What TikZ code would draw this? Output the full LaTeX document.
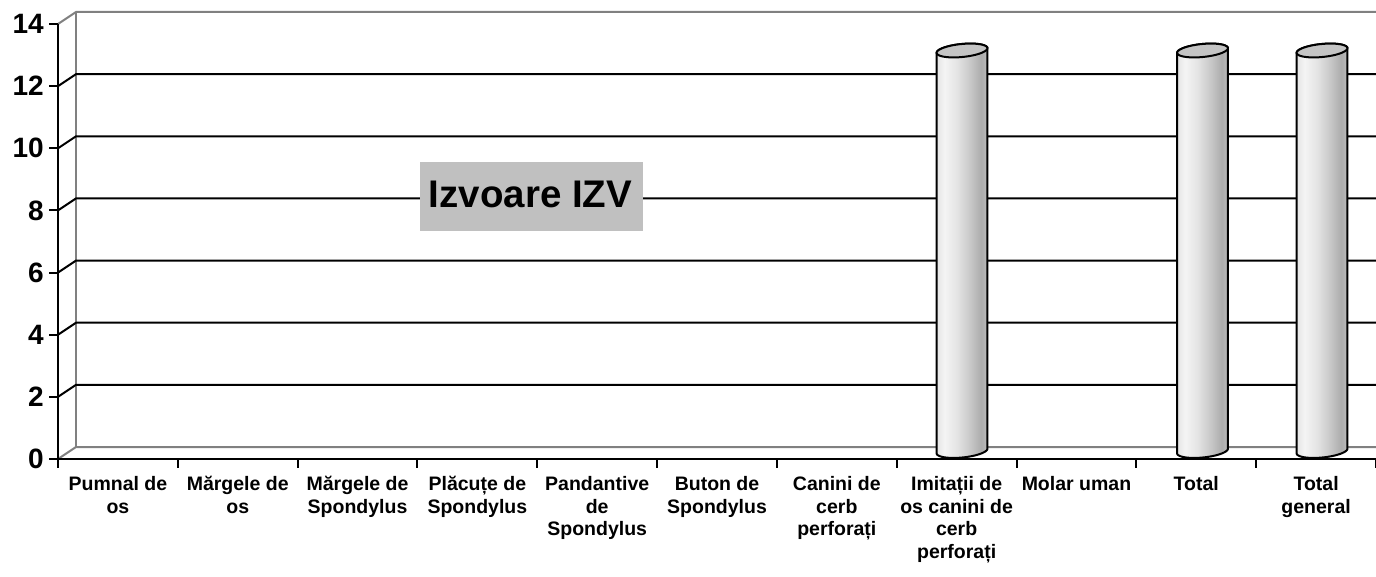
\documentclass[tikz,border=0pt]{standalone}
\usepackage{fontspec}
\setmainfont{Liberation Sans}
\definecolor{wallgray}{HTML}{808080}
\definecolor{titlegray}{HTML}{C0C0C0}
\definecolor{topgray}{HTML}{C4C4C4}
\definecolor{cA}{HTML}{E4E4E4}
\definecolor{cB}{HTML}{F4F4F4}
\definecolor{cC}{HTML}{E4E4E4}
\definecolor{cD}{HTML}{C8C8C8}
\definecolor{cE}{HTML}{ACACAC}
\definecolor{cF}{HTML}{BCBCBC}
\pgfdeclarehorizontalshading{cylshade}{100bp}{color(0bp)=(cA); color(25bp)=(cA); color(33bp)=(cB); color(45bp)=(cC); color(58bp)=(cD); color(69bp)=(cE); color(75bp)=(cF); color(100bp)=(cF)}
\newcommand\mycylinder[1]{%
  \shadedraw[shading=cylshade, line width=2pt]
    plot[domain=180:0, samples=40, variable=\t]
      ({#1 + 25.5*cos(\t)*cos(5.6) + 6.5*sin(\t)*sin(5.6)}, {451 - 25.5*cos(\t)*sin(5.6) + 6.5*sin(\t)*cos(5.6)})
    -- plot[domain=0:-180, samples=40, variable=\t]
      ({#1 + 25.5*cos(\t)*cos(5.6) + 6.5*sin(\t)*sin(5.6)}, {50.5 - 25.5*cos(\t)*sin(5.6) + 6.5*sin(\t)*cos(5.6)})
    -- cycle;
  \draw[fill=topgray, line width=2pt]
    plot[domain=0:360, samples=60, variable=\t]
      ({#1 + 25.5*cos(\t)*cos(5.6) + 6.5*sin(\t)*sin(5.6)}, {50.5 - 25.5*cos(\t)*sin(5.6) + 6.5*sin(\t)*cos(5.6)})
    -- cycle;
}
\begin{document}
\begin{tikzpicture}[x=1pt, y=-1pt,
  wall/.style={draw=wallgray, line width=2pt},
  gridline/.style={draw=black, line width=2pt},
  axisline/.style={draw=black, line width=2pt},
  ylab/.style={font=\fontsize{28}{28}\selectfont\bfseries, anchor=east, inner sep=0pt},
  xlab/.style={font=\fontsize{19.5}{22.7}\selectfont\bfseries, anchor=north, align=center, inner sep=0pt},
  titlebox/.style={fill=titlegray, minimum width=223pt, minimum height=69pt, inner sep=0pt},
  titletext/.style={font=\fontsize{38.5}{38.5}\selectfont\bfseries, inner sep=0pt}]
\useasboundingbox (0,0) rectangle (1376,577);
% back wall and floor
\draw[wall] (76,12) -- (76,447);
\draw[wall] (58,24) -- (76,12) -- (1376,12);
\draw[wall] (58,459) -- (76,447) -- (1376,447);
% grid lines
\foreach \v in {2,4,...,12}{
  \draw[gridline] (58,{459-\v*31.071}) -- ++(18,-12) -- (1376,{447-\v*31.071});
}
% title
\node[titlebox] (tbox) at (531.5,196.5) {};
\node[titletext] (title) at (530.5,194.5) {Izvoare IZV};
% cylinders
\mycylinder{962}
\mycylinder{1202.5}
\mycylinder{1322}
% axes
\draw[axisline] (58,24) -- (58,459) -- (1376,459);
\foreach \v [count=\i] in {0,2,...,14}{
  \draw[axisline] (49,{459-\v*31.071}) -- (58,{459-\v*31.071});
  \node[ylab] (y\i) at (44,{459-\v*31.071}) {\v};
}
\foreach \k in {0,...,11}{
  \draw[axisline] ({58+\k*119.818},459) -- ++(0,9);
}
% category labels
\foreach \lab [count=\i] in {
  {Pumnal de\\os},
  {Mărgele de\\os},
  {Mărgele de\\Spondylus},
  {Plăcuțe de\\Spondylus},
  {Pandantive\\de\\Spondylus},
  {Buton de\\Spondylus},
  {Canini de\\cerb\\perforați},
  {Imitații de\\os canini de\\cerb\\perforați},
  {Molar uman},
  {Total},
  {Total\\general}}{
  \node[xlab] (c\i) at ({58+(\i-0.5)*119.818},476) {\lab};
}
\end{tikzpicture}
\end{document}
